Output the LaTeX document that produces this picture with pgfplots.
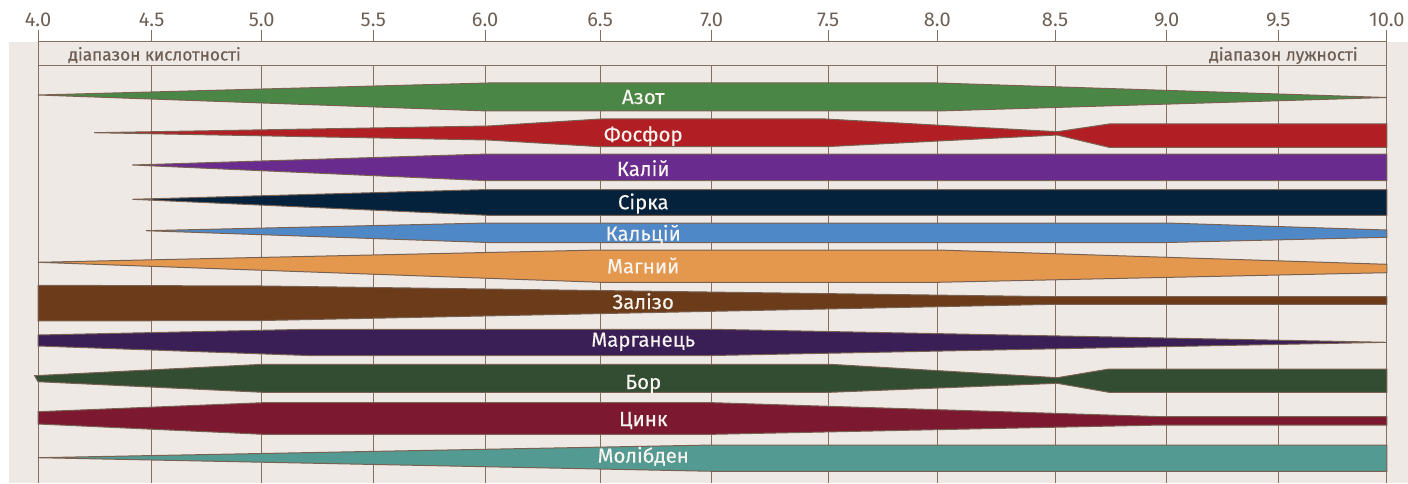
\documentclass[border=0pt]{standalone}
\usepackage{fontspec}
\setmainfont{Fira Sans}
\newfontfamily\medfont{Fira Sans}[FakeBold=0.6]
\newfontfamily\labfont{Fira Sans}[FakeBold=0.3]
\usepackage{pgfplots}
\pgfplotsset{compat=1.18}
\definecolor{bg}{HTML}{EEE9E5}
\definecolor{gridc}{HTML}{85705F}
\definecolor{tickc}{HTML}{6E5F55}
\definecolor{edgec}{HTML}{7A6252}
\definecolor{cN}{HTML}{4A8646}
\definecolor{cP}{HTML}{B11F24}
\definecolor{cK}{HTML}{6A2B8E}
\definecolor{cS}{HTML}{05223D}
\definecolor{cCa}{HTML}{4F88C6}
\definecolor{cMg}{HTML}{E4984E}
\definecolor{cFe}{HTML}{6C3B1A}
\definecolor{cMn}{HTML}{3A1F57}
\definecolor{cB}{HTML}{334D33}
\definecolor{cZn}{HTML}{7C1830}
\definecolor{cMo}{HTML}{539A92}
\definecolor{labc}{HTML}{F7F3EF}
\begin{document}
\begin{tikzpicture}
\begin{axis}[
  x=112.5pt, y=0.5pt,
  xmin=3.8711, xmax=10.0889, ymin=-483, ymax=-42,
  axis background/.style={fill=bg},
  axis line style={draw=none},
  clip=false,
  xtick={4,4.505,4.994,5.49,5.987,6.498,6.994,7.512,7.997,8.52,9.016,9.512,9.995},
  xticklabels={4.0,4.5,5.0,5.5,6.0,6.5,7.0,7.5,8.0,8.5,9.0,9.5,10.0},
  xticklabel pos=upper,
  xtick style={draw=none},
  ytick=\empty,
  xticklabel style={anchor=base, inner sep=0pt, yshift=7.7pt, font=\fontsize{10}{12}\selectfont, text=tickc},
  band/.style={draw=edgec, line width=0.5pt},
]
% bounding box corners
\coordinate (bbA) at (axis cs:3.8311,0);
\coordinate (bbB) at (axis cs:10.0889,-483);
% grid
\pgfplotsinvokeforeach{4.505,4.994,5.49,5.987,6.498,6.994,7.512,7.997,8.52,9.016,9.512}{
  \draw[gridc, line width=0.5pt] (axis cs:#1,-30) -- (axis cs:#1,-42);
  \draw[gridc, line width=0.5pt] (axis cs:#1,-66) -- (axis cs:#1,-483);
}
\draw[gridc, line width=0.5pt] (axis cs:4,-30) -- (axis cs:4,-483);
\draw[gridc, line width=0.5pt] (axis cs:9.995,-30) -- (axis cs:9.995,-483);
\draw[gridc, line width=0.5pt] (axis cs:4,-42) -- (axis cs:9.995,-42);
\draw[gridc, line width=0.5pt] (axis cs:4,-66) -- (axis cs:9.995,-66);
\node[anchor=base west, inner sep=0pt, text=tickc, font=\medfont\fontsize{8.6}{10}\selectfont] at (axis cs:4.133,-60.5) {діапазон кислотності};
\node[anchor=base east, inner sep=0pt, text=tickc, font=\medfont\fontsize{8.6}{10}\selectfont] at (axis cs:9.867,-60.5) {діапазон лужності};
% bands
\addplot[band, fill=cN] coordinates {(4.0,-95) (6.0,-83) (8.0,-83) (9.995,-97.5) (8.0,-111) (6.0,-111)} -- cycle;
\addplot[band, fill=cP] coordinates {(4.25,-132.7) (6.0,-126) (6.5,-119) (7.5,-119) (8.53,-131.7) (8.76,-124) (9.995,-124) (9.995,-147.3) (8.76,-147.3) (8.53,-135) (7.5,-146.7) (6.5,-146.7) (6.0,-140)} -- cycle;
\addplot[band, fill=cK] coordinates {(4.42,-165) (6.0,-154) (9.995,-154) (9.995,-180.7) (6.0,-180.7)} -- cycle;
\addplot[band, fill=cS] coordinates {(4.42,-199.3) (6.0,-189.5) (9.995,-189.5) (9.995,-215.3) (6.0,-215.3)} -- cycle;
\addplot[band, fill=cCa] coordinates {(4.48,-230.7) (6.0,-223) (9.016,-223) (9.995,-230) (9.995,-237.3) (9.016,-242.5) (6.0,-242.5)} -- cycle;
\addplot[band, fill=cMg] coordinates {(4.0,-262.3) (6.5,-250) (8.0,-250) (9.995,-264.3) (9.995,-272.7) (8.0,-282.3) (6.5,-282.3)} -- cycle;
\addplot[band, fill=cFe] coordinates {(4.0,-285.3) (5.0,-286) (8.52,-296.7) (9.995,-296.7) (9.995,-304.3) (8.52,-304.3) (5.0,-320.5) (4.0,-321)} -- cycle;
\addplot[band, fill=cMn] coordinates {(4.0,-335) (5.2,-329.3) (7.0,-329.3) (9.995,-342.3) (7.0,-355.5) (5.2,-355.5) (4.0,-346)} -- cycle;
\addplot[band, fill=cB] coordinates {(3.985,-375.7) (5.0,-364.3) (7.52,-364.3) (8.53,-377.7) (8.76,-369) (9.995,-369) (9.995,-392.3) (8.76,-392.3) (8.53,-383.3) (7.52,-392.3) (5.0,-392.3) (4.0,-381.7)} -- cycle;
\addplot[band, fill=cZn] coordinates {(4.0,-411.7) (5.0,-402.7) (7.0,-402.7) (9.0,-416.7) (9.995,-416.7) (9.995,-425) (9.0,-425) (7.0,-434.3) (5.0,-434.3) (4.0,-424)} -- cycle;
\addplot[band, fill=cMo] coordinates {(4.0,-457.7) (7.0,-445) (9.995,-445) (9.995,-471.3) (7.0,-471.3)} -- cycle;
% labels
\begin{scope}[every node/.style={anchor=base, inner sep=0pt, text=labc, font=\labfont\fontsize{10.2}{12}\selectfont}]
\node at (axis cs:6.69,-104) {Азот};
\node at (axis cs:6.69,-141.5) {Фосфор};
\node at (axis cs:6.69,-176) {Калій};
\node at (axis cs:6.69,-209.3) {Сірка};
\node at (axis cs:6.69,-240.7) {Кальцій};
\node at (axis cs:6.69,-273.3) {Магний};
\node at (axis cs:6.69,-309) {Залізо};
\node at (axis cs:6.69,-346.7) {Марганець};
\node at (axis cs:6.69,-389) {Бор};
\node at (axis cs:6.69,-426) {Цинк};
\node at (axis cs:6.69,-462.7) {Молібден};
\end{scope}
\end{axis}
\pgfresetboundingbox
\path[use as bounding box] (bbA) rectangle (bbB);
\end{tikzpicture}
\end{document}
